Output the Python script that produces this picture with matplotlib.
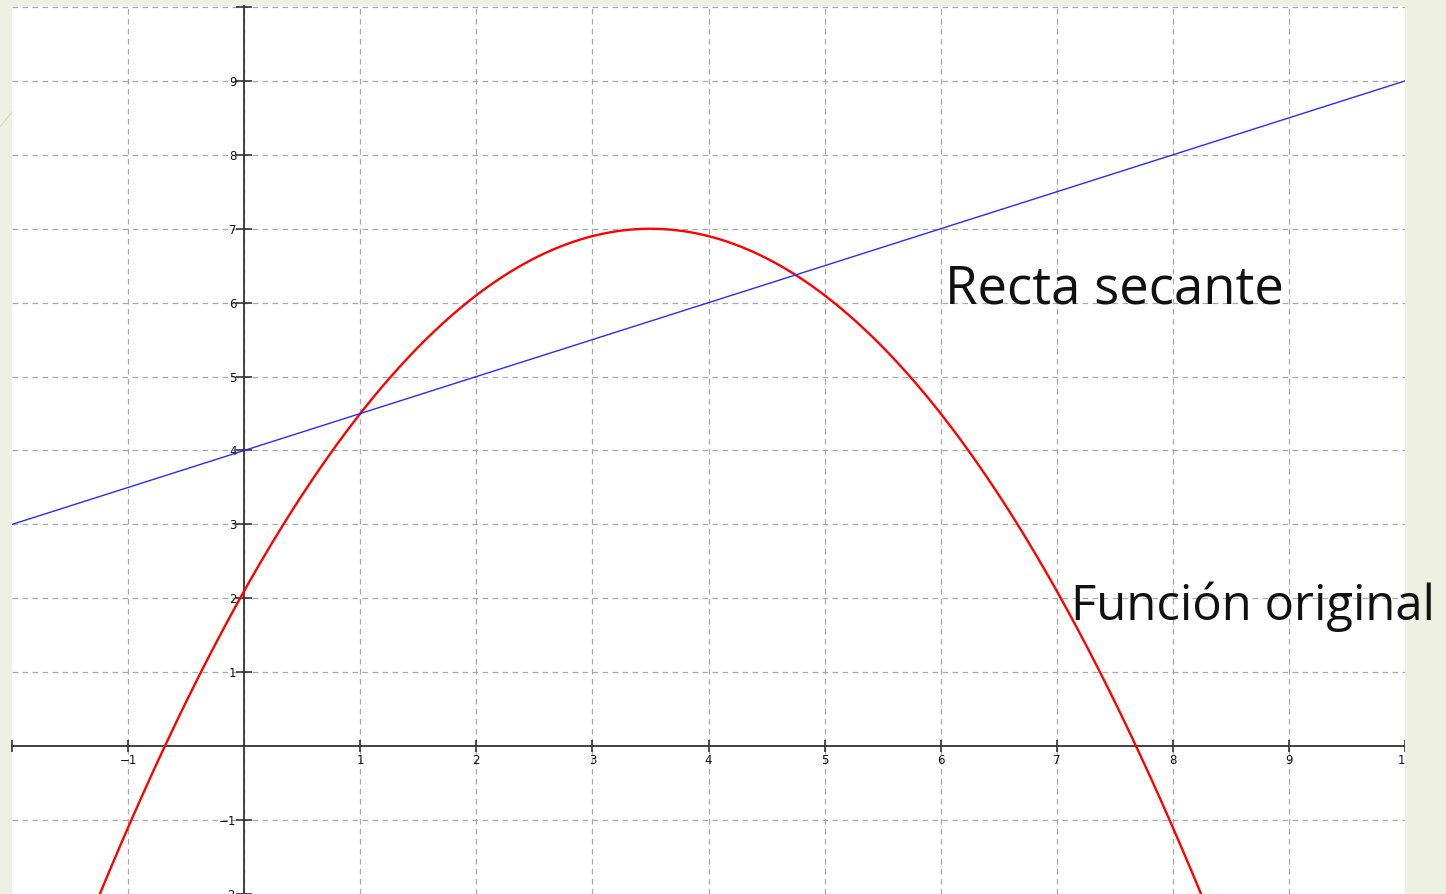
import numpy as np
import matplotlib
matplotlib.use("Agg")
import matplotlib.pyplot as plt
from matplotlib.patches import Rectangle
from matplotlib.lines import Line2D

# ---- data ----
vertex_x = 3.5          # parabola vertex
vertex_y = 7.0
curvature = -0.4        # f(x) = vertex_y + curvature*(x - vertex_x)^2
secant_intercept = 4.0  # secant line y = intercept + slope*x
secant_slope = 0.5
x_ticks = [-2, -1, 1, 2, 3, 4, 5, 6, 7, 8, 9, 10]
x_tick_labels = ["", "\u22121", "1", "2", "3", "4", "5", "6", "7", "8", "9", "10"]
y_ticks = [-2, -1, 1, 2, 3, 4, 5, 6, 7, 8, 9, 10]
y_tick_labels = ["\u22122", "\u22121", "1", "2", "3", "4", "5", "6", "7", "8", "9", ""]
grid_vals_x = [-1, 0, 1, 2, 3, 4, 5, 6, 7, 8, 9]
grid_vals_y = [-1, 1, 2, 3, 4, 5, 6, 7, 8, 9, 10]
label_secant = "Recta secante"
label_func = "Función original"

W, H = 1446, 894
fig = plt.figure(figsize=(W / 100, H / 100), dpi=100)
fig.patch.set_facecolor("#eef1e1")

# axes placement in pixels
left_px, right_px, top_px, bot_px = 12, 1405, 6, 894
ax = fig.add_axes([left_px / W, 1 - bot_px / H, (right_px - left_px) / W, (bot_px - top_px) / H])
ax.set_facecolor("white")
ax.set_zorder(0)

ax.set_xlim(-2, 10)
px_per_y = 74.0
y10_px = 7.0
ax.set_ylim(10 - (bot_px - y10_px) / px_per_y, 10 + (y10_px - top_px) / px_per_y)

# grid
for gx in grid_vals_x:
    ax.axvline(gx, color="#a8a8a8", lw=0.9, ls=(0, (4.5, 3.5)), zorder=1)
for gy in grid_vals_y:
    ax.axhline(gy, color="#a8a8a8", lw=0.9, ls=(0, (4.5, 3.5)), zorder=1)

# spines through the origin
for s in ["top", "right"]:
    ax.spines[s].set_visible(False)
ax.spines["left"].set_position(("data", 0))
ax.spines["bottom"].set_position(("data", 0))
for s in ["left", "bottom"]:
    ax.spines[s].set_color("#333333")
    ax.spines[s].set_linewidth(1.3)
    ax.spines[s].set_zorder(3)

ax.set_xticks(x_ticks)
ax.set_xticklabels(x_tick_labels)
ax.set_yticks(y_ticks)
ax.set_yticklabels(y_tick_labels)
ax.tick_params(axis="both", direction="inout", width=1.2, color="#333333",
               labelsize=8.5, labelcolor="#111111")
ax.tick_params(axis="x", length=8, pad=2)
ax.tick_params(axis="y", length=11, pad=0)

# curves
xs = np.linspace(-2, 10, 800)
ax.plot(xs, vertex_y + curvature * (xs - vertex_x) ** 2, color="#ff0000", lw=1.7, zorder=4,
        solid_capstyle="butt")
ax.plot(xs, secant_intercept + secant_slope * xs, color="#2a2aff", lw=1.0, zorder=4)

# right border panel drawn over the axes (clips the "10" label like the reference)
fig.patches.append(Rectangle((right_px / W, 0), 1 - right_px / W, 1, transform=fig.transFigure,
                             facecolor="#eef1e1", edgecolor="none", zorder=5))
fig.lines.append(Line2D([0, 12 / W], [1 - 127 / H, 1 - 112 / H], transform=fig.transFigure,
                        color="#d6dac6", lw=0.8, zorder=5))

# annotation texts
fam = ["Open Sans", "DejaVu Sans"]
t1 = fig.text(945 / W, 1 - 303 / H, label_secant, fontsize=34, family=fam, weight="normal",
              color="#111111", ha="left", va="baseline", zorder=10)
t2 = fig.text(1071 / W, 1 - 620 / H, label_func, fontsize=34, family=fam, weight="normal",
              color="#111111", ha="left", va="baseline", zorder=10)
fig.canvas.draw()
r = fig.canvas.get_renderer()
for t, target in [(t1, 340), (t2, 364)]:
    w = t.get_window_extent(r).width
    t.set_fontsize(34 * target / w)

fig.savefig("out.png", dpi=100, facecolor=fig.get_facecolor())
